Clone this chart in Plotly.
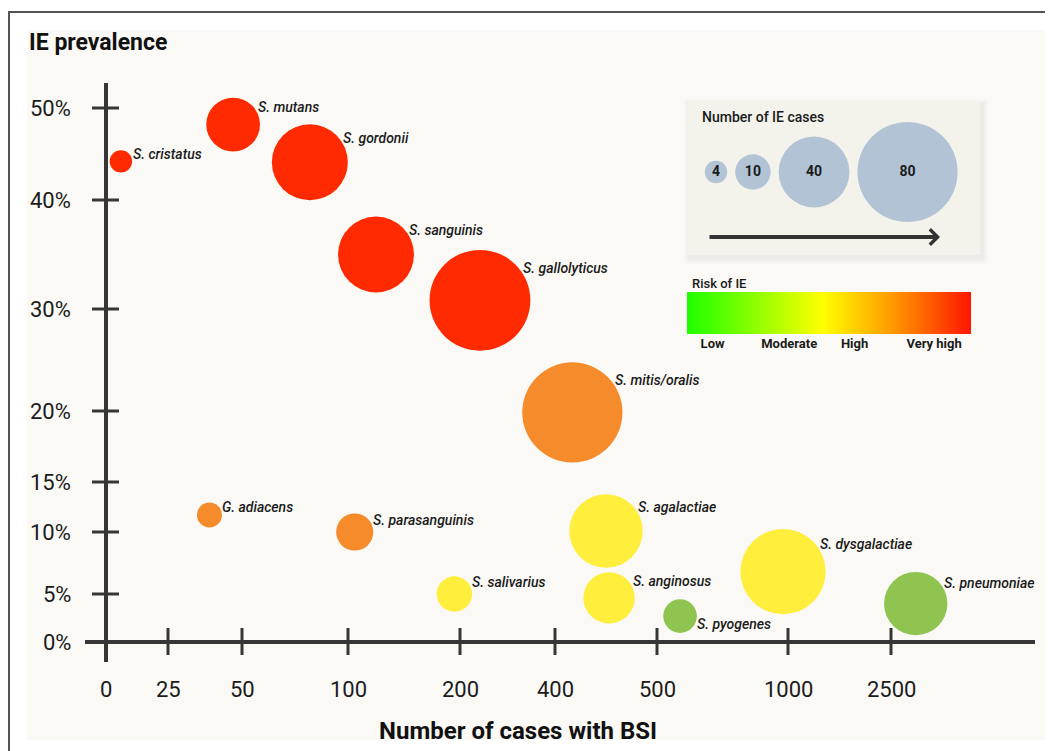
import numpy as np
import plotly.graph_objects as go

# ---------------- data ----------------
SPECIES = ["S. cristatus", "S. mutans", "S. gordonii", "S. sanguinis", "S. gallolyticus",
           "S. mitis/oralis", "G. adiacens", "S. parasanguinis", "S. salivarius",
           "S. agalactiae", "S. anginosus", "S. pyogenes", "S. dysgalactiae", "S. pneumoniae"]
BSI_CASES = [6, 47, 82, 125, 242, 417, 39, 106, 195, 450, 453, 588, 981, 2860]
IE_PREVALENCE = [44.2, 48.2, 44.1, 35.0, 30.8, 19.9, 11.7, 10.0, 5.0, 10.1, 4.6, 2.7, 6.8, 4.0]
IE_CASES = [4, 23, 46, 46, 81, 80, 5, 11, 10, 43, 21, 9, 58, 32]
RISK = ["Very high", "Very high", "Very high", "Very high", "Very high",
        "High", "High", "High", "Moderate", "Moderate", "Moderate", "Low",
        "Moderate", "Low"]

X_TICK_VALUES = [0, 25, 50, 100, 200, 400, 500, 1000, 2500]
Y_TICK_VALUES = [0, 5, 10, 15, 20, 30, 40, 50]
LEGEND_CASES = [4, 10, 40, 80]
RISK_LEVELS = ["Low", "Moderate", "High", "Very high"]

# ---------------- layout / style ----------------
W, H = 1053, 751
OFF = 8  # default page body margin; the figure is sized to fit the window
# the original figure uses hand-placed, non-uniform tick spacing
X_TICK_PX = [106, 168, 242, 348, 460, 555, 657, 788, 891]
Y_TICK_PX = [642, 594, 532, 482, 411, 309, 200, 108]
X_AXIS_Y, Y_AXIS_X = 642, 106
X_AXIS_EXTENT = (85, 1035)
Y_AXIS_EXTENT = (83, 662)
LABEL_BELOW = {"S. pyogenes"}
RISK_TICK_POS = [0.09, 0.36, 0.59, 0.87]

RISK_COLORS = {"Very high": "#FF2A00", "High": "#F58B2B", "Moderate": "#FFEE3C", "Low": "#8FC451"}
RISK_SCALE = [[0.0, "#1EFF00"], [0.2, "#7BFF00"], [0.475, "#FFFF00"],
              [0.72, "#FF9A00"], [1.0, "#FF1500"]]
AXIS_COLOR = "#363636"
TEXT_COLOR = "#1b1b1b"
FONT = "Roboto"
SIZEREF = 1 / (2 * 5.6 ** 2)


def scale(v, vals, px):
    v = np.asarray(v, dtype=float)
    out = np.interp(v, vals, px)
    slope = (px[-1] - px[-2]) / (vals[-1] - vals[-2])
    hi = v > vals[-1]
    out[hi] = px[-1] + (v[hi] - vals[-1]) * slope
    return out


def radius(n):
    return np.sqrt(np.asarray(n, dtype=float) / (2 * SIZEREF))


def paper_x(p):
    return (p - OFF) / (W - OFF)


def paper_y(p):
    return (H - p) / (H - OFF)


bx = scale(BSI_CASES, X_TICK_VALUES, X_TICK_PX)
by = scale(IE_PREVALENCE, Y_TICK_VALUES, Y_TICK_PX)
br = radius(IE_CASES)

fig = go.Figure()

shapes = []
# outer frame and panel
shapes.append(dict(type="rect", x0=27, x1=1045, y0=30, y1=740, fillcolor="#FAF9F5",
                   line=dict(width=0), layer="below"))
shapes.append(dict(type="line", x0=8, x1=W, y0=12, y1=12, line=dict(color="#555555", width=2)))
shapes.append(dict(type="line", x0=9, x1=9, y0=12, y1=H, line=dict(color="#555555", width=2)))

# axes
shapes.append(dict(type="line", x0=X_AXIS_EXTENT[0], x1=X_AXIS_EXTENT[1], y0=X_AXIS_Y, y1=X_AXIS_Y,
                   line=dict(color=AXIS_COLOR, width=4)))
shapes.append(dict(type="line", x0=Y_AXIS_X, x1=Y_AXIS_X, y0=Y_AXIS_EXTENT[0], y1=Y_AXIS_EXTENT[1],
                   line=dict(color=AXIS_COLOR, width=4)))
annotations = []
for v, px in zip(X_TICK_VALUES[1:], X_TICK_PX[1:]):
    shapes.append(dict(type="line", x0=px, x1=px, y0=X_AXIS_Y - 14, y1=X_AXIS_Y + 13,
                       line=dict(color=AXIS_COLOR, width=3)))
for v, px in zip(X_TICK_VALUES, X_TICK_PX):
    annotations.append(dict(x=px, y=689, text=str(v), showarrow=False, xanchor="center",
                            yanchor="middle", font=dict(family=FONT, size=22, color=TEXT_COLOR)))
for v, py in zip(Y_TICK_VALUES, Y_TICK_PX):
    if v != 0:
        shapes.append(dict(type="line", x0=Y_AXIS_X - 14, x1=Y_AXIS_X + 13, y0=py, y1=py,
                           line=dict(color=AXIS_COLOR, width=3)))
    annotations.append(dict(x=73, y=py, text=f"{v}%", showarrow=False, xanchor="right",
                            yanchor="middle", font=dict(family=FONT, size=22, color=TEXT_COLOR)))

annotations.append(dict(x=27, y=42, text="<b>IE prevalence</b>", showarrow=False, xanchor="left",
                        yanchor="middle", font=dict(family=FONT, size=23, color="#111111")))
annotations.append(dict(x=518, y=731, text="<b>Number of cases with BSI</b>", showarrow=False,
                        xanchor="center", yanchor="middle",
                        font=dict(family=FONT, size=24, color="#111111")))

# bubbles
fig.add_trace(go.Scatter(
    x=bx, y=by, mode="markers",
    marker=dict(size=IE_CASES, sizemode="area", sizeref=SIZEREF, sizemin=1,
                color=[RISK_COLORS[r] for r in RISK], line=dict(width=0), opacity=1),
    text=SPECIES, hovertemplate="%{text}<extra></extra>", showlegend=False))

for name, x, y, r in zip(SPECIES, bx, by, br):
    below = name in LABEL_BELOW
    annotations.append(dict(x=x, y=y, text=name, showarrow=False, xanchor="left", yanchor="middle",
                            xshift=0.8 * r + 1, yshift=(-0.5 * r) if below else (0.65 * r),
                            font=dict(family=FONT, size=14, color=TEXT_COLOR, style="italic",
                                      weight=500)))

# size legend box (with a soft drop shadow)
for grow, alpha in [(6, 0.012), (4, 0.018), (2, 0.025)]:
    shapes.append(dict(type="rect", x0=688 - grow + 2, x1=980 + grow + 2, y0=102 - grow + 3,
                       y1=255 + grow + 3, fillcolor=f"rgba(0,0,0,{alpha})",
                       line=dict(width=0), layer="below"))
shapes.append(dict(type="rect", x0=688, x1=980, y0=102, y1=255, fillcolor="#F3F3EC",
                   line=dict(width=0), layer="below"))
annotations.append(dict(x=700, y=117, text="Number of IE cases", showarrow=False, xanchor="left",
                        yanchor="middle", font=dict(family=FONT, size=14, color=TEXT_COLOR,
                                                    weight=500)))
lr = radius(LEGEND_CASES)
lx = [716.0]
for i in range(1, len(LEGEND_CASES)):
    lx.append(lx[-1] + lr[i - 1] + 8 + lr[i])
fig.add_trace(go.Scatter(
    x=lx, y=[172] * len(LEGEND_CASES), mode="markers+text",
    marker=dict(size=LEGEND_CASES, sizemode="area", sizeref=SIZEREF, color="#B3C3D6",
                line=dict(width=0), opacity=1),
    text=[str(n) for n in LEGEND_CASES], textposition="middle center",
    textfont=dict(family=FONT, size=14, color=TEXT_COLOR, weight="bold"),
    hoverinfo="skip", showlegend=False))
annotations.append(dict(x=940, y=237, ax=708, ay=237, xref="x", yref="y", axref="x", ayref="y",
                        text="", showarrow=True, arrowhead=4, arrowsize=0.75, arrowwidth=4,
                        arrowcolor="#333333"))

# risk colour bar
fig.add_trace(go.Heatmap(
    x=[0, 1], y=[0, 1], z=[[0, 1], [0, 1]], zmin=0, zmax=1, zsmooth="best",
    colorscale=RISK_SCALE, showscale=False, hoverinfo="skip", xaxis="x2", yaxis="y2"))
annotations.append(dict(x=690, y=283, text="Risk of IE", showarrow=False, xanchor="left",
                        yanchor="middle", font=dict(family=FONT, size=13, color=TEXT_COLOR,
                                                    weight=500)))

fig.update_layout(
    width=W - OFF, height=H - OFF, autosize=False,
    margin=dict(l=0, r=0, t=0, b=0, pad=0),
    paper_bgcolor="white", plot_bgcolor="rgba(0,0,0,0)",
    xaxis=dict(range=[OFF, W], domain=[0, 1], visible=False, fixedrange=True),
    yaxis=dict(range=[H, OFF], domain=[0, 1], visible=False, fixedrange=True),
    xaxis2=dict(range=[0, 1], domain=[paper_x(687), paper_x(971)], anchor="y2", showgrid=False,
                zeroline=False, showline=False, ticks="", tickvals=RISK_TICK_POS,
                ticktext=RISK_LEVELS, tickfont=dict(family=FONT, size=13, color=TEXT_COLOR,
                                                    weight="bold"),
                fixedrange=True),
    yaxis2=dict(range=[0, 1], domain=[paper_y(334), paper_y(292)], anchor="x2",
                visible=False, fixedrange=True),
    shapes=shapes, annotations=annotations, showlegend=False,
)

fig.write_html("out.html")
